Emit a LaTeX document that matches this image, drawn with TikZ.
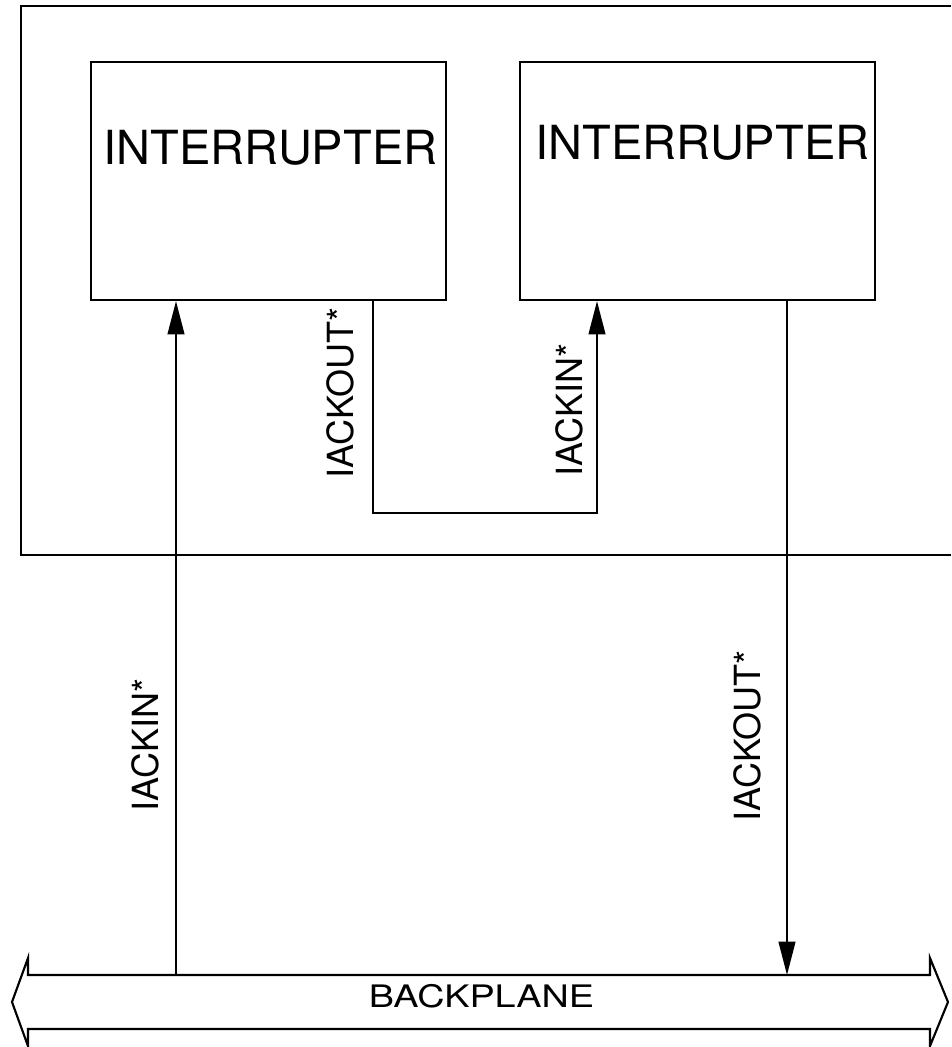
\documentclass[tikz,border=0pt]{standalone}
\usepackage{fontspec}
\setmainfont{TeX Gyre Heros}
\usetikzlibrary{arrows.meta}
\tikzset{
  px/.style={x=0.75pt,y=-0.75pt},
  ln/.style={line width=1.6pt,line join=miter},
  boxn/.style={draw,ln,inner sep=0pt,minimum width=266.25pt,minimum height=178.5pt},
  arr/.style={ln,-{Triangle[length=25pt,width=12.5pt]}},
  bigtxt/.style={font=\fontsize{35.25}{40}\selectfont,inner sep=0pt},
  lbl/.style={font=\fontsize{27}{30}\selectfont,inner sep=0pt,rotate=90},
  bptxt/.style={font=\fontsize{23.25}{26}\selectfont,inner sep=0pt,xscale=1.22}
}
\begin{document}
\begin{tikzpicture}[px]
\useasboundingbox (0,0) rectangle (951,1047);
% outer board (open to the right)
\draw[ln] (951,6) -- (21,6) -- (21,555) -- (951,555);
% interrupter boxes
\node[boxn] (b1) at (268.5,181) {};
\node[boxn] (b2) at (697.5,181) {};
\node[bigtxt] (t1) at (270.5,147.5) {INTERRUPTER};
\node[bigtxt] (t2) at (702.5,143) {INTERRUPTER};
% backplane
\draw[ln] (28,975) -- (930,975) -- (930,958) -- (948,1002) -- (930,1046) -- (930,1029)
  -- (28,1029) -- (28,1046) -- (12,1002) -- (28,958) -- cycle;
\node[bptxt] (bp) at (481.5,996) {BACKPLANE};
% connection points
\coordinate (inL) at (176,975);
\coordinate (outR) at (787,975);
\coordinate (m1) at (373,513);
\coordinate (m2) at (597,513);
% connectors
\draw[arr] (inL) -- (inL |- b1.south);
\draw[arr] (b1.south -| m1) -- (m1) -- (m2) -- (b2.south -| m2);
\draw[arr] (b2.south -| outR) -- (outR);
% labels
\node[lbl] (l1) at (145,745) {IACKIN*};
\node[lbl] (l2) at (340,393) {IACKOUT*};
\node[lbl] (l3) at (569,410) {IACKIN*};
\node[lbl] (l4) at (747,736) {IACKOUT*};
\end{tikzpicture}
\end{document}
